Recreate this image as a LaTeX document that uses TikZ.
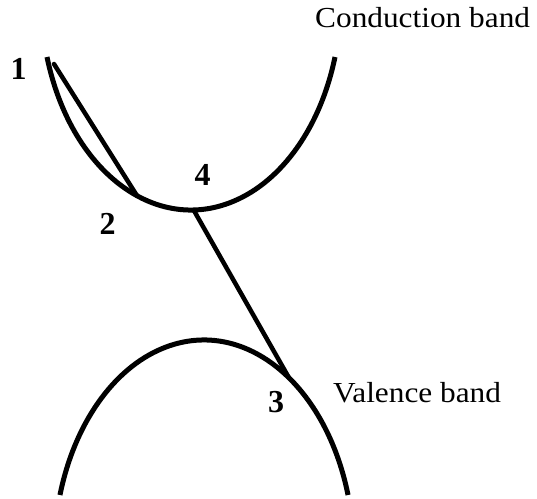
\documentclass[tikz,border=0pt]{standalone}
\usepackage{fontspec}
\setmainfont{Liberation Serif}
\begin{document}
\begin{tikzpicture}[x=1pt,y=1pt,
  band/.style={line width=5pt, line cap=butt},
  transition/.style={line width=4.5pt, line cap=round},
  num/.style={font=\fontsize{32}{32}\selectfont\bfseries, inner sep=0pt},
  bandlabel/.style={font=\fontsize{29}{29}\selectfont, inner sep=0pt, anchor=base west}]
\useasboundingbox (0,0) rectangle (537,498);
% centres of the two band curves
\coordinate (cc) at (191,500.5);
\coordinate (vc) at (204,-57);
% conduction band
\draw[band] (cc) ++(196.26:150 and 212.5) arc[start angle=196.26, end angle=343.74, x radius=150, y radius=212.5];
% valence band
\draw[band] (vc) ++(16.2:150 and 215) arc[start angle=16.2, end angle=163.8, x radius=150, y radius=215];
% transition points
\coordinate (p1) at (54,434);
\path (cc) ++(248.9:150 and 212.5) coordinate (p2);
\path (cc) ++(271:150 and 212.5) coordinate (p4);
\path (vc) ++(55.5:150 and 215) coordinate (p3);
\draw[transition] (p1) -- (p2);
\draw[transition] (p4) -- (p3);
% labels
\node[num] (n1) at (18.5,429) {1};
\node[num] (n2) at (107.5,274) {2};
\node[num] (n4) at (202.5,323) {4};
\node[num] (n3) at (276,95.5) {3};
\node[bandlabel] (cb) at (315,470) {\scalebox{1.08}[1]{Conduction band}};
\node[bandlabel] (vb) at (333,96) {\scalebox{1.08}[1]{Valence band}};
\end{tikzpicture}
\end{document}
